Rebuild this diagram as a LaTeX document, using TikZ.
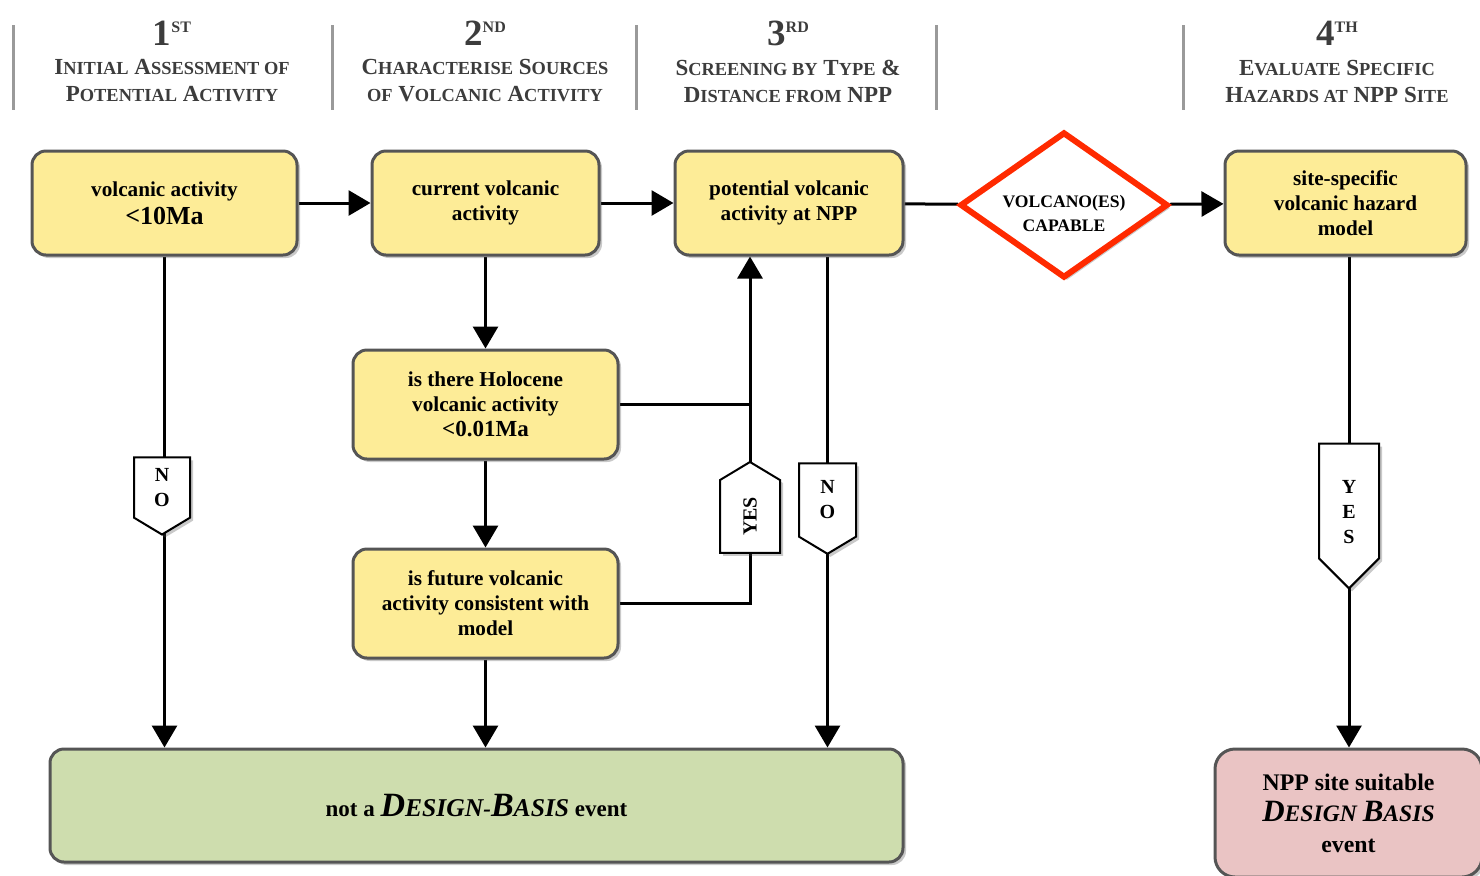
\documentclass[tikz,border=0pt]{standalone}
\usepackage{fontspec}
\setmainfont{Liberation Serif}
\usetikzlibrary{arrows.meta,shapes.geometric,shapes.symbols,shadows,backgrounds}
\definecolor{vfYellow}{HTML}{FDEC97}
\definecolor{vfEdge}{HTML}{555555}
\definecolor{vfGreen}{HTML}{CEDDAE}
\definecolor{vfPink}{HTML}{EAC4C4}
\definecolor{vfRed}{HTML}{FF2A00}
\definecolor{vfHead}{HTML}{3C3C3C}
\definecolor{vfRule}{HTML}{9A9A9A}

% small caps by hand: big first letter, smaller rest
\newcommand\hsc[2]{#1{\fontsize{9.2pt}{10pt}\selectfont #2}}
\newcommand\ordsup[1]{\raisebox{6.5pt}{\fontsize{8pt}{8pt}\selectfont #1}}
\newcommand\dbsc[2]{{\fontsize{17pt}{17pt}\selectfont #1}{\fontsize{12.8pt}{13pt}\selectfont #2}}
\newcommand\pksc[2]{{\fontsize{15.5pt}{15.5pt}\selectfont #1}{\fontsize{11.8pt}{12pt}\selectfont #2}}
\newcommand\lowstack[2]{\raisebox{#1}[0pt][0pt]{\begin{tabular}{@{}c@{}}#2\end{tabular}}}

\tikzset{
  shade/.style={drop shadow={shadow xshift=1.5pt,shadow yshift=-1.5pt,opacity=.3,fill=black!70}},
  vbox/.style={draw=vfEdge,line width=1.5pt,rounded corners=7pt,fill=vfYellow,align=center,
    inner sep=0pt,shade,font=\fontsize{10.6pt}{12.5pt}\selectfont\bfseries},
  arr/.style={line width=1.5pt,-{Triangle[length=11pt,width=12.5pt]}},
  link/.style={line width=1.5pt},
  tag/.style={signal,draw=black,line width=1pt,fill=white,inner sep=0pt,align=center,
    signal pointer angle=118,shade,font=\fontsize{10pt}{12.5pt}\selectfont\bfseries},
  rule/.style={vfRule,line width=1.5pt},
  headnum/.style={text=vfHead,font=\fontsize{18.5pt}{19pt}\selectfont\bfseries},
  head/.style={text=vfHead,align=center,font=\fontsize{11.5pt}{13.5pt}\selectfont\bfseries}
}

\begin{document}
\begin{tikzpicture}[x=0.5pt,y=-0.5pt]
\useasboundingbox (0,0) rectangle (1480,875);

% stage rules
\foreach \x in {13,332,636,936,1183}
  \draw[rule] (\x,25) -- (\x,110);

% stage headers
\node[headnum] (n1) at (172,33) {1\ordsup{ST}};
\node[headnum] (n2) at (485,33) {2\ordsup{ND}};
\node[headnum] (n3) at (788,33) {3\ordsup{RD}};
\node[headnum] (n4) at (1337,33) {4\ordsup{TH}};
\node[head] (t1) at (172,81) {\hsc{I}{NITIAL} \hsc{A}{SSESSMENT OF}\\\hsc{P}{OTENTIAL} \hsc{A}{CTIVITY}};
\node[head] (t2) at (485,81) {\hsc{C}{HARACTERISE} \hsc{S}{OURCES}\\\hsc{}{OF} \hsc{V}{OLCANIC} \hsc{A}{CTIVITY}};
\node[head] (t3) at (788,81) {\hsc{S}{CREENING BY} \hsc{T}{YPE} \&\\\hsc{D}{ISTANCE FROM} NPP};
\node[head] (t4) at (1337,81) {\hsc{E}{VALUATE} \hsc{S}{PECIFIC}\\\hsc{H}{AZARDS AT} NPP \hsc{S}{ITE}};

% boxes
\node[vbox,minimum width=132.5pt,minimum height=52pt] (va) at (164.5,203)
  {volcanic activity\\[1.5pt]{\fontsize{13pt}{14pt}\selectfont <10Ma}};
\node[vbox,minimum width=113.5pt,minimum height=52pt] (cv) at (485.5,203)
  {current volcanic\\activity};
\node[vbox,minimum width=114pt,minimum height=52pt] (pv) at (789,203)
  {potential volcanic\\activity at NPP};
\node[vbox,minimum width=120.5pt,minimum height=52pt] (sh) at (1345.5,203)
  {site-specific\\volcanic hazard\\model};
\node[vbox,minimum width=132.5pt,minimum height=54.5pt] (hol) at (485.5,404.5)
  {is there Holocene\\volcanic activity\\{\fontsize{11.5pt}{12pt}\selectfont <0.01Ma}};
\node[vbox,minimum width=132.5pt,minimum height=54.5pt] (fut) at (485.5,603.5)
  {is future volcanic\\activity consistent with\\model};
\node[vbox,fill=vfGreen,minimum width=426.5pt,minimum height=56.5pt,
  font=\fontsize{11.5pt}{13pt}\selectfont\bfseries] (nd) at (476.5,805.5)
  {not a \textit{\dbsc{D}{ESIGN}-\dbsc{B}{ASIS}} event};
\node[vbox,fill=vfPink,rounded corners=10pt,minimum width=133.5pt,minimum height=64pt,
  font=\fontsize{11.9pt}{15.5pt}\selectfont\bfseries] (ok) at (1348.5,813)
  {NPP site suitable\\\textit{\pksc{D}{ESIGN} \pksc{B}{ASIS}}\\event};

% decision
\node[diamond,draw=vfRed,line width=3pt,fill=white,inner sep=0pt,shade,
  minimum width=104pt,minimum height=73pt,font=\fontsize{8.8pt}{12pt}\selectfont\bfseries]
  (cap) at (1064,205)
  {\makebox[0pt]{\lowstack{-7pt}{VOLCANO(ES)\\CAPABLE}}};

% answer tags
\node[tag,signal to=south,minimum width=28pt,minimum height=32.5pt] (noA) at (162,487.5) {N\\O};
\node[tag,signal to=north,minimum width=30pt,minimum height=38.5pt] (yesL) at (750,516.5) {\rotatebox{90}{YES}};
\node[tag,signal to=south,minimum width=28.5pt,minimum height=39pt] (noB) at (827.5,500) {N\\O};
\node[tag,signal to=south,signal pointer angle=90,minimum width=30pt,minimum height=61pt] (yesR) at (1349,501)
  {\lowstack{-8.5pt}{Y\\E\\S}};

% connectors
\begin{scope}[on background layer]
\draw[arr] (va) -- (cv);
\draw[arr] (cv) -- (pv);
\draw[link] (pv) -- (cap);
\draw[arr] (cap) -- (sh);
\draw[arr] (va.south) -- (va.south |- nd.north);
\draw[arr] (cv) -- (hol);
\draw[arr] (hol) -- (fut);
\draw[arr] (fut) -- (fut.south |- nd.north);
\draw[arr] (fut.east) -| (yesL |- pv.south);
\draw[link] (hol.east) -- (hol.east -| yesL);
\draw[arr] (noB |- pv.south) -- (noB |- nd.north);
\draw[arr] (yesR |- sh.south) -- (yesR |- ok.north);
\end{scope}
\end{tikzpicture}
\end{document}
